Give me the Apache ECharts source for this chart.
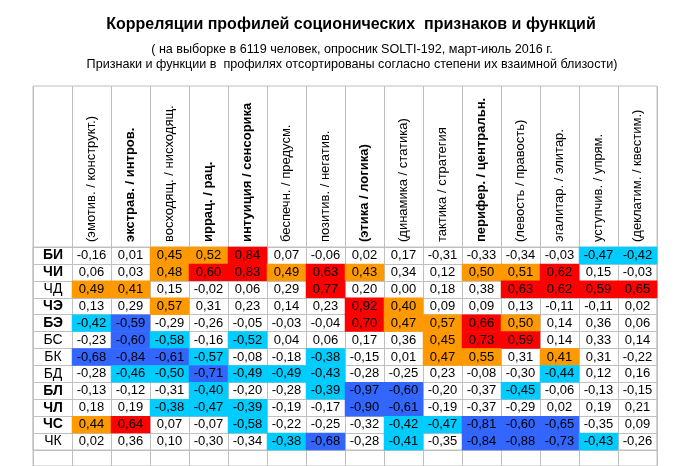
<!DOCTYPE html>
<html>
<head>
<meta charset="utf-8">
<title>Корреляции профилей</title>
<script src="https://cdn.jsdelivr.net/npm/echarts/dist/echarts.min.js"></script>
<style>
	html, body { margin: 0; padding: 0; background: #fff; }
	#main { width: 684px; height: 466px; }
</style>
</head>
<body>
<div id="main"></div>
<script>
// column headers (features / functions)
var headers = [
	'(эмотив. / конструкт.)',
	'экстрав. / интров.',
	'восходящ. / нисходящ.',
	'иррац. / рац.',
	'интуиция / сенсорика',
	'беспечн. / предусм.',
	'позитив. / негатив.',
	'(этика / логика)',
	'(динамика / статика)',
	'тактика / стратегия',
	'перифер. / центральн.',
	'(левость / правость)',
	'эгалитар. / элитар.',
	'уступчив. / упрям.',
	'(деклатим. / квестим.)'
];
var boldHeaders = ['экстрав. / интров.', 'иррац. / рац.', 'интуиция / сенсорика', '(этика / логика)', 'перифер. / центральн.'];

var rows = ['БИ', 'ЧИ', 'ЧД', 'ЧЭ', 'БЭ', 'БС', 'БК', 'БД', 'БЛ', 'ЧЛ', 'ЧС', 'ЧК'];
var boldRows = ['БИ', 'ЧИ', 'ЧЭ', 'БЭ', 'БЛ', 'ЧЛ', 'ЧС'];

var rowBI = [-0.16, 0.01, 0.45, 0.52, 0.84, 0.07, -0.06, 0.02, 0.17, -0.31, -0.33, -0.34, -0.03, -0.47, -0.42];
var rowCHI = [0.06, 0.03, 0.48, 0.60, 0.83, 0.49, 0.63, 0.43, 0.34, 0.12, 0.50, 0.51, 0.62, 0.15, -0.03];
var rowCHD = [0.49, 0.41, 0.15, -0.02, 0.06, 0.29, 0.77, 0.20, 0.00, 0.18, 0.38, 0.63, 0.62, 0.59, 0.65];
var rowCHE = [0.13, 0.29, 0.57, 0.31, 0.23, 0.14, 0.23, 0.92, 0.40, 0.09, 0.09, 0.13, -0.11, -0.11, 0.02];
var rowBE = [-0.42, -0.59, -0.29, -0.26, -0.05, -0.03, -0.04, 0.70, 0.47, 0.57, 0.66, 0.50, 0.14, 0.36, 0.06];
var rowBS = [-0.23, -0.60, -0.58, -0.16, -0.52, 0.04, 0.06, 0.17, 0.36, 0.45, 0.73, 0.59, 0.14, 0.33, 0.14];
var rowBK = [-0.68, -0.84, -0.61, -0.57, -0.08, -0.18, -0.38, -0.15, 0.01, 0.47, 0.55, 0.31, 0.41, 0.31, -0.22];
var rowBD = [-0.28, -0.46, -0.50, -0.71, -0.49, -0.49, -0.43, -0.28, -0.25, 0.23, -0.08, -0.30, -0.44, 0.12, 0.16];
var rowBL = [-0.13, -0.12, -0.31, -0.40, -0.20, -0.28, -0.39, -0.97, -0.60, -0.20, -0.37, -0.45, -0.06, -0.13, -0.15];
var rowCHL = [0.18, 0.19, -0.38, -0.47, -0.39, -0.19, -0.17, -0.90, -0.61, -0.19, -0.37, -0.29, 0.02, 0.19, 0.21];
var rowCHS = [0.44, 0.64, 0.07, -0.07, -0.58, -0.22, -0.25, -0.32, -0.42, -0.47, -0.81, -0.60, -0.65, -0.35, 0.09];
var rowCHK = [0.02, 0.36, 0.10, -0.30, -0.34, -0.38, -0.68, -0.28, -0.41, -0.35, -0.84, -0.88, -0.73, -0.43, -0.26];

var table = [rowBI, rowCHI, rowCHD, rowCHE, rowBE, rowBS, rowBK, rowBD, rowBL, rowCHL, rowCHS, rowCHK];

var font = 'Liberation Sans, Arial, sans-serif';
var lineColor = '#c0c0c0';

// first column of the sheet holds the row names, data starts at index 1
var cells = [];
for (var r = 0; r < table.length; r++) {
	for (var c = 0; c < table[r].length; c++) {
		cells.push([c + 1, r, table[r][c]]);
	}
}

function fmt(v) {
	return v.toFixed(2).replace('.', ',');
}

var myChart = echarts.init(document.getElementById('main'));
var option = {
	backgroundColor: '#fff',
	animation: false,
	title: [{
		text: 'Корреляции профилей соционических  признаков и функций',
		left: 346,
		top: 12,
		textAlign: 'center',
		textStyle: {
			fontFamily: font,
			fontSize: 16,
			fontWeight: 'bold',
			color: '#000'
		}
	}, {
		text: '( на выборке в 6119 человек, опросник SOLTI-192, март-июль 2016 г.\nПризнаки и функции в  профилях отсортированы согласно степени их взаимной близости)',
		left: 347,
		top: 37,
		textAlign: 'center',
		textStyle: {
			fontFamily: font,
			fontSize: 12.6,
			fontWeight: 'normal',
			lineHeight: 15,
			color: '#000'
		}
	}],
	grid: [{
		// sheet lines: header + table + below
		left: 33,
		top: 86,
		width: 624,
		height: 500,
		show: true,
		borderColor: lineColor,
		borderWidth: 1
	}, {
		// data cells
		left: 33,
		top: 247,
		width: 624,
		height: 203,
		show: true,
		borderColor: lineColor,
		borderWidth: 1
	}],
	xAxis: [{
		gridIndex: 0,
		type: 'category',
		data: [''].concat(headers),
		axisLine: { show: false },
		axisTick: { show: false },
		axisLabel: { show: false },
		splitLine: {
			show: true,
			interval: 0,
			lineStyle: { color: lineColor }
		}
	}, {
		gridIndex: 1,
		type: 'category',
		position: 'top',
		data: [''].concat(headers),
		axisLine: { show: false },
		axisTick: { show: false },
		splitLine: { show: false },
		axisLabel: {
			interval: 0,
			rotate: -90,
			margin: 5,
			fontFamily: font,
			fontSize: 13,
			color: '#000',
			formatter: function(v) {
				if (boldHeaders.indexOf(v) > -1) {
					return '{b|' + v + '}';
				}
				return v;
			},
			rich: {
				b: {
					fontFamily: font,
					fontSize: 13,
					fontWeight: 'bold',
					color: '#000'
				}
			}
		}
	}],
	yAxis: [{
		gridIndex: 0,
		type: 'value',
		show: false
	}, {
		gridIndex: 1,
		type: 'category',
		inverse: true,
		data: rows,
		axisLine: { show: false },
		axisTick: { show: false },
		splitLine: {
			show: true,
			interval: 0,
			lineStyle: { color: lineColor }
		},
		axisLabel: {
			interval: 0,
			inside: true,
			align: 'center',
			margin: 20,
			fontFamily: font,
			fontSize: 14,
			color: '#000',
			formatter: function(v) {
				if (boldRows.indexOf(v) > -1) {
					return '{b|' + v + '}';
				}
				return v;
			},
			rich: {
				b: {
					fontFamily: font,
					fontSize: 14,
					fontWeight: 'bold',
					color: '#000'
				}
			}
		}
	}],
	visualMap: {
		type: 'piecewise',
		show: false,
		seriesIndex: 0,
		dimension: 2,
		pieces: [
			{ lt: -0.585, color: '#3366ff' },
			{ gte: -0.585, lt: -0.375, color: '#00ccff' },
			{ gte: -0.375, lt: 0.395, color: 'rgba(255,255,255,0)' },
			{ gte: 0.395, lt: 0.58, color: '#ff9900' },
			{ gte: 0.58, color: '#ff0000' }
		]
	},
	series: [{
		type: 'heatmap',
		xAxisIndex: 1,
		yAxisIndex: 1,
		data: cells,
		label: {
			show: true,
			fontFamily: font,
			fontSize: 13,
			color: '#000',
			formatter: function(p) {
				return fmt(p.value[2]);
			}
		},
		emphasis: { disabled: true }
	}]
};
myChart.setOption(option);
</script>
</body>
</html>
